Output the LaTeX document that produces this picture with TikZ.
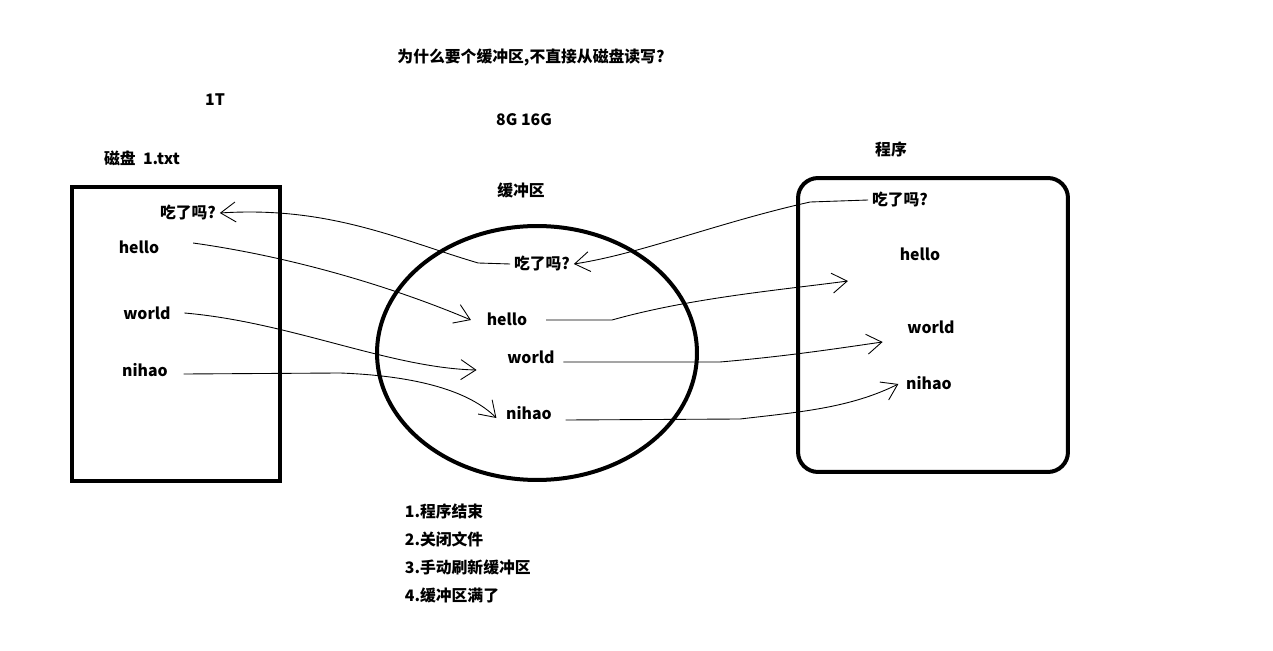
\documentclass[tikz,border=0pt]{standalone}
\usepackage{fontspec}
\setmainfont{Noto Sans CJK SC}
\usetikzlibrary{shapes.geometric, arrows.meta, positioning, calc}

\begin{document}
\begin{tikzpicture}[
    x=0.02cm, y=-0.02cm,
    word/.style={font=\fontsize{9}{11}\selectfont\bfseries, inner sep=2pt},
    frame/.style={draw=black, line width=0.08cm, inner sep=0pt},
    link/.style={-{Straight Barb[length=3mm, width=4mm]}, line width=0.5pt}
  ]
    \useasboundingbox (0,0) rectangle (1273,651);

    % Title
    \node[word] (title) at (531,57) {为什么要个缓冲区,不直接从磁盘读写?};

    % Disk
    \node[frame, minimum width=4.18cm, minimum height=5.9cm] (disk) at (176,334) {};
    \node[word] (disksize) at (215,100) {1T};
    \node[word] (disklbl) at (142,158) {磁盘\ \ 1.txt};
    \node[word] (dsk1) at (188,213) {吃了吗?};
    \node[word] (dsk2) at (139,247) {hello};
    \node[word] (dsk3) at (147,313) {world};
    \node[word] (dsk4) at (145,370) {nihao};

    % Buffer
    \node[frame, ellipse, minimum width=6.4cm, minimum height=5.08cm] (buffer) at (537,353) {};
    \node[word] (bufsize) at (524,120) {8G 16G};
    \node[word] (buflbl) at (521,190) {缓冲区};
    \node[word] (buf1) at (542,264) {吃了吗?};
    \node[word] (buf2) at (507,319) {hello};
    \node[word] (buf3) at (531,357) {world};
    \node[word] (buf4) at (529,413) {nihao};

    % Program
    \node[frame, rounded corners=0.4cm, minimum width=5.4cm, minimum height=5.88cm] (prog) at (933,325) {};
    \node[word] (proglbl) at (891,149) {程序};
    \node[word] (prg1) at (900,200) {吃了吗?};
    \node[word] (prg2) at (920,254) {hello};
    \node[word] (prg3) at (931,327) {world};
    \node[word] (prg4) at (929,383) {nihao};

    % Buffer -> disk, program -> buffer
    \draw[link] (buf1.west) -- ++(-32,-1) .. controls (400,240) and (330,206) .. (dsk1.east);
    \draw[link] (prg1.west) -- ++(-58,2) .. controls (720,222) and (640,254) .. (buf1.east);

    % Disk -> buffer
    \draw[link] (dsk2.east) ++(30,-4) .. controls (300,258) and (400,290) .. ($(buf2.west)+(-12,1)$);
    \draw[link] (dsk3.east) ++(10,0) .. controls (290,322) and (390,368) .. ($(buf3.west)+(-27,13)$);
    \draw[link] (dsk4.east) ++(12,4) -- (340,373) .. controls (420,376) and (470,392) .. ($(buf4.west)+(-6,5)$);

    % Buffer -> program
    \draw[link] (buf2.east) ++(15,1) -- (612,320) .. controls (690,298) and (780,290) .. ($(prg2.west)+(-48,27)$);
    \draw[link] (buf3.east) ++(5,5) -- (720,362) .. controls (790,356) and (840,348) .. ($(prg3.west)+(-21,15)$);
    \draw[link] (buf4.east) ++(10,7) -- (740,419) .. controls (800,412) and (850,408) .. ($(prg4.west)+(-4,1)$);

    % Flush cases
    \node[word, anchor=west] (step1) at (401,511) {1.程序结束};
    \node[word, anchor=west] (step2) at (401,539) {2.关闭文件};
    \node[word, anchor=west] (step3) at (401,567) {3.手动刷新缓冲区};
    \node[word, anchor=west] (step4) at (401,595) {4.缓冲区满了};

  \end{tikzpicture}
\end{document}
